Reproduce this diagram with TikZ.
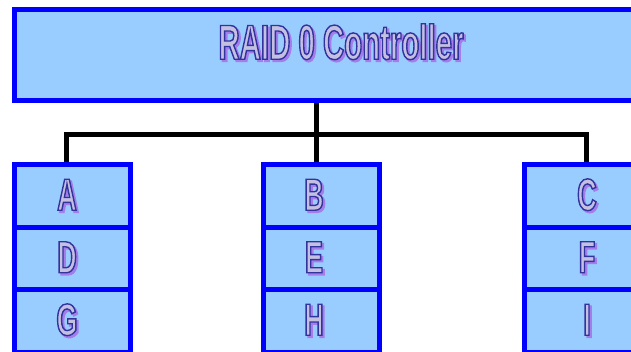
\documentclass[tikz,border=0pt]{standalone}
\usepackage{fontspec}
\usetikzlibrary{positioning}

\newfontfamily\raidfont[FakeStretch=0.6]{Liberation Sans}

\definecolor{cellblue}{RGB}{153,204,255}
\definecolor{edgeblue}{RGB}{0,0,255}
\definecolor{glyphfill}{RGB}{196,192,226}
\definecolor{glyphshade}{RGB}{165,125,235}

% hollow letters (fill + stroke render mode) with a drop shadow
\newcommand\embossed[1]{%
  \rlap{\kern2pt\raisebox{-2pt}{\color{glyphshade}\special{pdf:code 2 Tr 1.6 w}#1\special{pdf:code 0 Tr}}}%
  {\color{glyphfill}\special{pdf:code 2 Tr 1.4 w 0.2 0.2 0.62 RG}#1\special{pdf:code 0 Tr}}}

\begin{document}
\begin{tikzpicture}[x=1pt,y=-1pt,
  box/.style={draw=edgeblue,fill=cellblue,line width=5pt,outer sep=0pt,inner sep=0pt},
  cell/.style={box,minimum width=115.5pt,minimum height=62.5pt},
  title/.style={font=\raidfont\bfseries\fontsize{49pt}{49pt}\selectfont},
  letter/.style={font=\raidfont\bfseries\fontsize{45pt}{45pt}\selectfont},
  link/.style={line width=5pt,black}]
\useasboundingbox (0,0) rectangle (631,351);
\clip (0,0) rectangle (631,351);
% Controller across the top
\node[box,minimum width=654pt,minimum height=91.5pt,
  label={[title,yshift=12pt]center:\embossed{RAID 0 Controller}}] (ctrl) at (341,54.75) {};
% Three disks, three stripes each
\foreach \d/\x/\dx/\p/\q/\r in {a/72.25/-5.25/A/D/G, b/321.5/-7.5/B/E/H, c/582.25/4.75/C/F/I}{
  \node[cell,label={[letter,xshift=\dx pt]center:\embossed{\p}}] (\d1) at (\x,195.75) {};
  \node[cell,below=0pt of \d1,label={[letter,xshift=\dx pt]center:\embossed{\q}}] (\d2) {};
  \node[cell,below=0pt of \d2,label={[letter,xshift=\dx pt]center:\embossed{\r}}] (\d3) {};
}
% Bus from the controller down to each disk
\coordinate (hub) at (316.5,134.5);
\draw[link,shorten <=2.5pt] (ctrl.south -| hub) -- (hub);
\draw[link,shorten >=2.5pt] (hub) -- (hub |- b1.north);
\draw[link,shorten >=2.5pt] (hub) -| ([xshift=-6.25pt]a1.north);
\draw[link,shorten >=2.5pt] (hub) -| ([xshift=4.25pt]c1.north);
\end{tikzpicture}
\end{document}
